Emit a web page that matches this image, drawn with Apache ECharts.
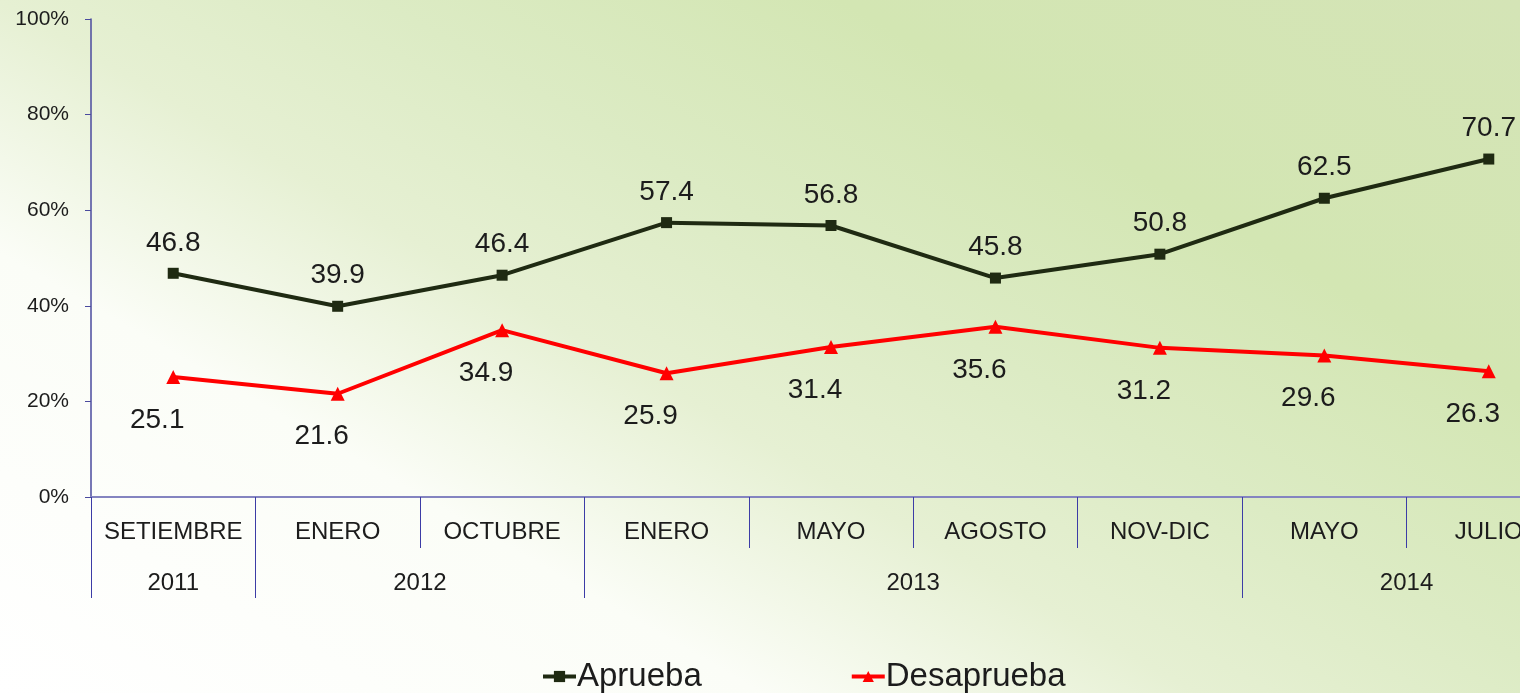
<!DOCTYPE html>
<html>
<head>
<meta charset="utf-8">
<script src="https://cdn.jsdelivr.net/npm/echarts@6/dist/echarts.min.js"></script>
<style>
html,body{margin:0;padding:0;width:1520px;height:693px;overflow:hidden;}
#chart{width:1520px;height:693px;
background:linear-gradient(30deg,#ffffff 0%,#fbfdf7 28%,#e6f0d3 44%,#dcebc4 58%,#d3e6b3 75%,#d4e4b6 100%);}
</style>
</head>
<body>
<div id="chart"></div>
<script>
const months = ['SETIEMBRE','ENERO','OCTUBRE','ENERO','MAYO','AGOSTO','NOV-DIC','MAYO','JULIO'];
const years = ['2011','2012','2013','2014'];
const yearSpans = [1, 2, 4, 2];
const aprueba = [46.8, 39.9, 46.4, 57.4, 56.8, 45.8, 50.8, 62.5, 70.7];
const desaprueba = [25.1, 21.6, 34.9, 25.9, 31.4, 35.6, 31.2, 29.6, 26.3];
const yTicks = [0, 20, 40, 60, 80, 100];

// derived year boundaries and centres
const yearBounds = [0];
const yearCenters = [];
yearSpans.forEach((s) => {
  const start = yearBounds[yearBounds.length - 1];
  yearCenters.push(start + s / 2);
  yearBounds.push(start + s);
});

const FONT = '"Liberation Sans", Arial, sans-serif';
const TXT = '#1c1c1c';
const AXIS = '#4a4a9e';

const chart = echarts.init(document.getElementById('chart'), null, {renderer: 'canvas'});
chart.setOption({
  backgroundColor: 'transparent',
  animation: false,
  textStyle: {fontFamily: FONT},
  grid: {left: 91, width: 1480, top: 19, height: 478, containLabel: false, outerBoundsMode: 'none'},
  legend: {
    left: 536, top: 655,
    itemWidth: 33, itemHeight: 14, itemGap: 148,
    lineStyle: {width: 4},
    textStyle: {fontSize: 33, color: TXT, fontFamily: FONT, padding: [0,0,0,-4]},
    data: ['Aprueba', 'Desaprueba']
  },
  xAxis: [
    {
      type: 'category', data: months, boundaryGap: true,
      axisLine: {show: true, lineStyle: {color: '#8484c0', width: 2}},
      axisTick: {show: true, interval: 0, length: 51, lineStyle: {color: '#3c3ca6', width: 1}},
      axisLabel: {interval: 0, fontSize: 24, color: TXT, margin: 23, fontFamily: FONT},
      splitLine: {show: false}
    },
    {
      type: 'value', min: 0, max: months.length, position: 'bottom', offset: 0,
      axisLine: {show: false},
      axisTick: {show: true, customValues: yearBounds, length: 101, lineStyle: {color: '#3c3ca6', width: 1}},
      axisLabel: {
        customValues: yearCenters, fontSize: 24, color: TXT, margin: 74, fontFamily: FONT,
        formatter: (v) => years[yearCenters.indexOf(v)] || ''
      },
      splitLine: {show: false}
    }
  ],
  yAxis: {
    type: 'value', min: yTicks[0], max: yTicks[yTicks.length - 1], interval: 20,
    axisLine: {show: true, lineStyle: {color: AXIS, width: 1.5}},
    axisTick: {show: true, length: 6, lineStyle: {color: AXIS}},
    axisLabel: {formatter: '{value}%', fontSize: 21, color: TXT, margin: 22, fontFamily: FONT},
    splitLine: {show: false}
  },
  series: [
    {
      name: 'Aprueba', type: 'line', xAxisIndex: 0, data: aprueba,
      color: '#1f2a12',
      lineStyle: {width: 4, color: '#1f2a12'},
      symbol: 'rect', symbolSize: 11,
      itemStyle: {color: '#1f2a12'},
      label: {show: true, position: 'top', distance: 11, fontSize: 28, color: TXT, fontFamily: FONT,
        formatter: (p) => p.value.toFixed(1)}
    },
    {
      name: 'Desaprueba', type: 'line', xAxisIndex: 0, data: desaprueba,
      color: '#ff0000',
      lineStyle: {width: 4, color: '#ff0000'},
      symbol: 'triangle', symbolSize: 14,
      itemStyle: {color: '#ff0000'},
      label: {show: true, position: 'bottom', distance: 22, offset: [-16, 0], fontSize: 28, color: TXT, fontFamily: FONT,
        formatter: (p) => p.value.toFixed(1)}
    }
  ]
});
</script>
</body>
</html>
